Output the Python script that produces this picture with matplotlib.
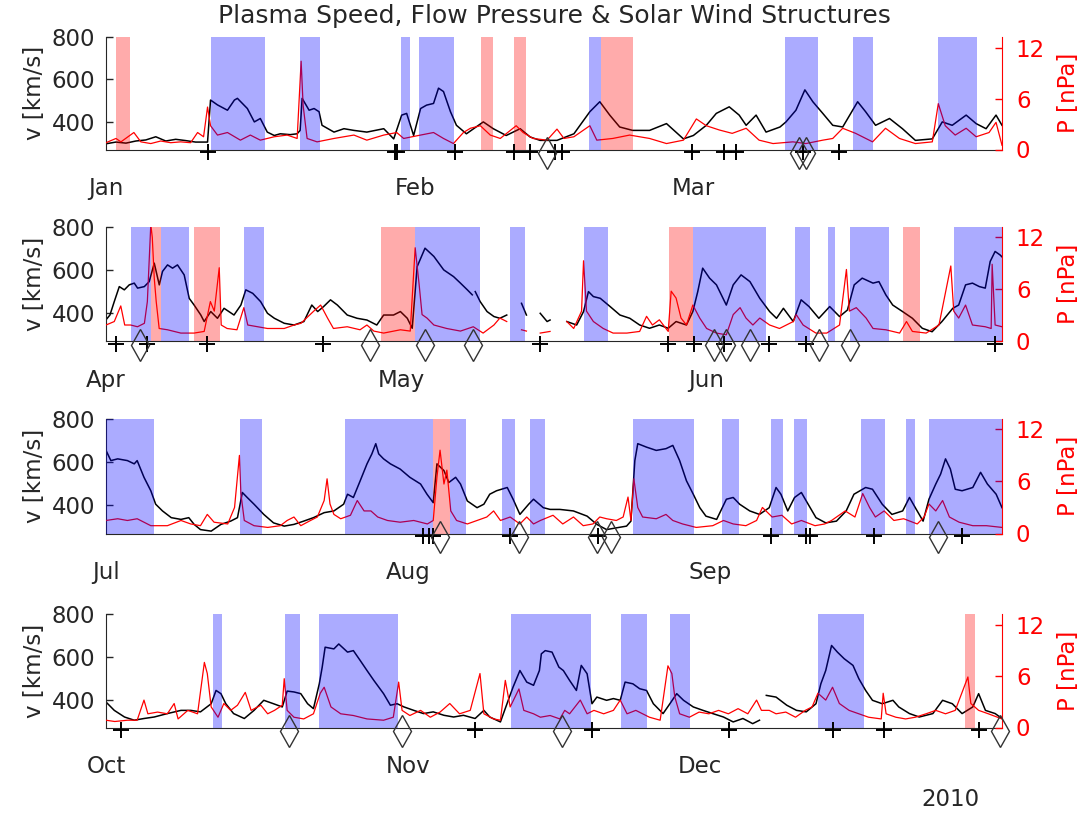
import numpy as np
import matplotlib
matplotlib.use("Agg")
import matplotlib.pyplot as plt

plt.rcParams['font.family'] = ['DejaVu Sans']

nan = np.nan

# ---- calendar layout: one panel per quarter of 2010 (day of year, 0 = Jan 1) ----
quarter_start = [0, 90, 181, 273]
quarter_end = [90, 181, 273, 365]
month_names = [["Jan", "Feb", "Mar"], ["Apr", "May", "Jun"],
               ["Jul", "Aug", "Sep"], ["Oct", "Nov", "Dec"]]
month_start = [[0, 31, 59], [90, 120, 151], [181, 212, 243], [273, 304, 334]]

# ---- Q1: (day in quarter, value) ----
q1_speed = [(0, 297), (1, 305), (2, 300), (3, 310), (4, 315), (5, 330), (6, 310), (7, 318),
            (8, 312), (9, 305), (10.2, 305), (10.5, 503), (11.2, 480), (12.2, 455), (12.9, 503),
            (13.2, 511), (14.2, 463), (14.9, 400), (15.5, 416), (16.2, 352), (16.9, 336),
            (17.5, 344), (18.5, 340), (19.2, 344), (19.5, 360), (19.7, 511), (20.4, 455),
            (20.9, 463), (21.4, 448), (21.7, 384), (22.9, 352), (23.9, 368), (24.9, 360),
            (26.2, 352), (27.9, 368), (28.9, 320), (29.7, 432), (30.2, 440), (30.9, 336),
            (31.6, 463), (32.2, 479), (32.9, 487), (33.4, 559), (33.9, 543), (34.6, 448),
            (35.2, 384), (36.2, 344), (37.9, 400), (38.9, 368), (40.2, 336), (41.6, 368),
            (42.6, 329), (43.6, 313), (45.3, 313), (47.0, 344), (48.6, 448), (49.6, 495),
            (50.6, 432), (51.6, 376), (52.9, 360), (54.6, 360), (56.3, 392), (58.0, 320),
            (59.0, 336), (60.3, 384), (61.3, 440), (62.6, 471), (63.6, 432), (64.3, 384),
            (65.3, 432), (66.3, 352), (67.7, 376), (68.3, 400), (69.3, 455), (70.2, 551),
            (71.0, 495), (72.0, 440), (73.0, 384), (74.0, 376), (75.5, 495), (76.3, 448),
            (77.3, 384), (78.7, 416), (80.0, 368), (81.3, 313), (83.0, 320), (84.0, 400),
            (85.0, 384), (86.4, 432), (87.4, 392), (88.4, 368), (89.4, 432), (90.0, 384)]
q1_pressure = [(0, 0.8), (1.0, 1.3), (1.5, 0.9), (2.8, 2.0), (3.5, 0.9), (4.5, 0.7), (5.5, 1.0),
               (6.5, 0.8), (7.5, 0.9), (8.5, 0.8), (9.2, 2.0), (9.8, 1.5), (10.2, 5.0),
               (10.5, 2.8), (11.2, 1.7), (12.2, 2.0), (13.5, 1.1), (14.5, 1.7), (15.5, 1.1),
               (16.9, 1.5), (18.2, 1.7), (19.2, 1.3), (19.6, 10.4), (19.8, 5.2), (20.2, 1.3),
               (21.2, 0.9), (22.9, 1.3), (24.9, 1.7), (26.2, 1.1), (27.9, 1.7), (29.2, 2.0),
               (29.9, 1.3), (31.6, 1.7), (32.9, 2.0), (33.9, 1.3), (34.9, 0.7), (35.9, 2.0),
               (36.6, 2.5), (37.6, 2.8), (38.6, 1.7), (39.6, 1.3), (41.2, 2.8), (41.9, 2.0),
               (42.9, 1.3), (44.3, 1.1), (45.3, 2.4), (46.0, 1.3), (47.0, 1.5), (48.6, 2.8),
               (49.3, 1.1), (50.9, 1.3), (52.6, 1.7), (54.6, 1.3), (56.3, 0.7), (58.0, 1.1),
               (59.3, 3.6), (60.3, 2.8), (61.6, 2.3), (62.9, 1.9), (64.3, 2.5), (65.6, 1.1),
               (67.0, 0.7), (69.0, 0.9), (70.3, 0.7), (72.0, 1.1), (73.0, 1.3), (74.0, 2.5),
               (75.3, 1.9), (77.0, 0.9), (78.3, 2.5), (79.7, 1.3), (81.3, 0.7), (83.0, 0.9),
               (83.6, 5.4), (84.3, 2.8), (85.3, 1.7), (86.4, 2.5), (87.4, 1.5), (88.7, 2.0),
               (89.4, 3.2), (90.0, 0.5)]
q1_hss = [(10.5, 16.0), (19.5, 21.5), (29.6, 30.5), (31.4, 35.0), (48.5, 49.7),
          (68.2, 71.5), (75.0, 77.0), (83.6, 87.5)]
q1_icme = [(1.0, 2.4), (37.7, 38.9), (41.0, 42.2), (49.7, 52.9)]
q1_shocks = [10.25, 29.0, 29.2, 35.1, 41.0, 42.6, 45.1, 45.8, 58.9, 62.1, 63.3, 70.0, 73.6]
q1_interfaces = [44.3, 69.6, 70.3]

# ---- Q2 ----
q2_speed = [(0, 370), (0.4, 392), (0.84, 454), (1.35, 523), (1.86, 508), (2.36, 531), (2.87, 539),
            (3.21, 516), (3.89, 523), (4.39, 546), (4.9, 631), (5.41, 531), (5.74, 593),
            (6.25, 623), (6.76, 608), (7.26, 623), (7.94, 577), (8.45, 469), (8.95, 438),
            (9.63, 392), (9.97, 362), (10.64, 408), (11.32, 377), (11.99, 423), (13.0, 392),
            (13.7, 438), (14.2, 508), (14.9, 492), (15.7, 454), (16.4, 400), (17.1, 377),
            (18.1, 354), (19.1, 346), (20.1, 362), (20.9, 438), (21.5, 408), (22.1, 431),
            (22.8, 462), (23.5, 438), (24.5, 392), (25.5, 377), (26.5, 369), (27.5, 346),
            (28.2, 392), (29.2, 392), (29.9, 408), (30.6, 377), (31.1, 331), (31.6, 615),
            (32.4, 700), (33.3, 662), (34.3, 600), (35.3, 569), (36.0, 539), (36.7, 508),
            (37.2, 485), (37.3, nan), (37.5, 500), (38.0, 454), (38.7, 408), (39.4, 385),
            (40.0, 377), (40.7, 392), (41.5, nan), (42.2, 446), (42.7, 392), (43.5, nan),
            (44.1, 400), (44.8, 362), (45.1, 369), (46.0, nan), (46.8, 362), (47.8, 346),
            (48.5, 408), (49.0, 500), (49.5, 477), (50.2, 469), (51.2, 431), (52.2, 392),
            (53.2, 377), (54.2, 346), (55.2, 331), (56.2, 346), (57.1, 331), (57.9, 362),
            (58.95, 346), (59.6, 408), (60.1, 500), (60.6, 608), (61.3, 562), (62.0, 531),
            (63.0, 438), (63.7, 531), (64.5, 577), (65.4, 546), (66.4, 469), (67.4, 408),
            (68.1, 377), (68.8, 423), (69.8, 362), (70.6, 462), (71.4, 431), (72.4, 377),
            (73.5, 431), (74.5, 385), (75.3, 415), (75.99, 531), (76.8, 562), (77.9, 539),
            (78.5, 546), (79.2, 485), (79.9, 438), (80.9, 408), (81.9, 377), (82.9, 331),
            (83.9, 315), (84.9, 362), (86.0, 423), (86.6, 438), (87.3, 531), (88.0, 539),
            (88.7, 523), (89.3, 516), (89.8, 639), (90.3, 685), (90.8, 669), (91.0, 660)]
q2_pressure = [(0, 1.9), (0.84, 2.3), (1.5, 4.1), (1.9, 1.9), (2.5, 1.9), (3.2, 1.7), (3.9, 2.1),
               (4.2, 4.6), (4.55, 13.5), (4.7, 12.0), (4.9, 7.3), (5.1, 4.6), (5.4, 1.5),
               (6.25, 1.35), (7.6, 0.97), (8.95, 0.97), (9.97, 1.16), (10.6, 4.6), (11.0, 3.5),
               (11.5, 8.5), (11.7, 1.9), (12.3, 1.5), (13.3, 1.35), (14.0, 3.9), (14.4, 1.9),
               (15.4, 1.7), (16.4, 1.5), (18.1, 1.5), (19.1, 1.9), (19.8, 2.1), (21.1, 3.5),
               (21.8, 4.2), (22.5, 2.7), (23.1, 1.5), (24.5, 1.7), (25.8, 1.35), (26.5, 1.9),
               (27.2, 1.2), (28.2, 0.97), (29.9, 1.35), (30.9, 1.2), (31.4, 10.8), (31.8, 6.6),
               (32.1, 3.1), (32.6, 2.7), (33.3, 1.9), (34.6, 1.5), (36.0, 1.2), (37.3, 1.7),
               (38.3, 0.97), (39.4, 1.9), (40.0, 2.7), (40.7, 2.3), (41.5, nan), (42.2, 1.35),
               (42.7, 1.2), (43.5, nan), (44.1, 0.97), (45.1, 1.16), (46.0, nan), (46.8, 2.3),
               (47.5, 1.5), (48.3, 3.5), (48.5, 9.3), (48.8, 3.5), (49.5, 2.3), (50.5, 1.5),
               (51.5, 0.97), (52.9, 0.97), (54.2, 1.16), (54.9, 2.9), (55.5, 1.9), (56.2, 2.5),
               (57.1, 1.16), (57.4, 5.8), (57.9, 5.0), (58.4, 2.7), (58.95, 1.9), (59.6, 4.2),
               (60.3, 2.7), (61.0, 1.5), (62.0, 0.97), (63.0, 0.77), (63.7, 3.1), (64.4, 3.9),
               (65.0, 2.7), (65.7, 1.9), (66.4, 2.7), (67.4, 1.9), (68.4, 1.5), (69.8, 2.3),
               (70.1, 3.1), (70.8, 1.9), (72.1, 0.97), (73.2, 0.97), (74.5, 1.9), (75.2, 8.3),
               (75.5, 3.5), (76.2, 3.9), (77.2, 2.7), (77.9, 1.5), (79.2, 1.35), (80.6, 0.97),
               (81.3, 2.3), (81.9, 1.16), (83.3, 0.97), (84.6, 1.9), (85.8, 8.7), (86.1, 3.5),
               (86.6, 2.7), (87.3, 4.2), (88.0, 1.9), (89.3, 1.7), (89.9, 1.5), (90.0, 8.9),
               (90.3, 1.9), (91.0, 1.7)]
q2_hss = [(2.5, 4.6), (5.6, 8.4), (14.0, 16.0), (31.4, 38.0), (41.0, 42.6), (48.5, 51.0),
          (59.6, 67.0), (70.0, 71.5), (73.3, 74.0), (75.6, 79.5), (86.1, 91.0)]
q2_icme = [(4.6, 5.6), (8.9, 11.6), (27.9, 31.4), (57.2, 59.6), (80.9, 82.7)]
q2_shocks = [1.0, 4.2, 10.3, 22.0, 44.1, 57.1, 59.7, 62.8, 67.3, 71.1, 90.3]
q2_interfaces = [3.5, 26.8, 32.4, 37.3, 61.8, 63.0, 65.4, 72.4, 75.6]

# ---- Q3 ----
q3_speed = [(0, 653), (0.5, 606), (1.2, 614), (2.2, 606), (2.9, 591), (3.2, 606), (3.9, 529),
            (4.6, 467), (5.1, 405), (5.8, 374), (6.7, 343), (7.7, 335), (8.5, 343), (9.05, 312),
            (9.7, 288), (10.8, 281), (11.8, 312), (12.8, 327), (13.5, 343), (14.0, 459),
            (14.5, 436), (15.2, 405), (16.2, 358), (17.2, 319), (18.3, 304), (19.3, 312),
            (20.3, 327), (21.3, 343), (22.4, 366), (23.4, 374), (24.4, 405), (24.8, 451),
            (25.4, 436), (26.1, 513), (26.8, 591), (27.3, 637), (27.7, 684), (28.0, 637),
            (28.5, 614), (29.2, 591), (30.2, 567), (31.2, 529), (32.3, 498), (32.96, 451),
            (33.6, 412), (33.98, 591), (34.7, 560), (35.2, 505), (35.9, 529), (36.4, 498),
            (37.1, 420), (38.1, 389), (38.8, 405), (39.4, 451), (40.1, 467), (41.2, 482),
            (41.8, 428), (42.5, 358), (43.4, 405), (43.9, 428), (44.9, 389), (45.6, 381),
            (46.6, 381), (47.99, 374), (49.4, 350), (50.4, 312), (51.4, 288), (52.4, 296),
            (53.45, 304), (53.9, 327), (54.3, 606), (54.6, 684), (55.5, 668), (56.5, 653),
            (57.5, 661), (58.2, 676), (58.9, 606), (59.6, 513), (60.3, 451), (60.97, 389),
            (61.6, 350), (62.7, 335), (63.7, 428), (64.4, 436), (65.06, 405), (66.1, 374),
            (67.1, 358), (68.1, 389), (68.8, 482), (69.3, 451), (70.0, 374), (70.7, 436),
            (71.4, 459), (71.9, 420), (72.9, 343), (73.9, 319), (75.0, 327), (76.0, 374),
            (76.8, 451), (78.0, 482), (78.7, 474), (79.7, 405), (80.7, 358), (81.8, 374),
            (82.5, 436), (83.2, 381), (83.9, 327), (84.5, 428), (85.2, 498), (85.7, 544),
            (86.2, 614), (86.7, 567), (87.2, 474), (87.9, 467), (89.0, 482), (89.8, 552),
            (90.5, 498), (91.4, 451), (92.0, 389)]
q3_pressure = [(0, 1.5), (1.2, 1.7), (2.2, 1.5), (3.2, 1.7), (4.6, 0.9), (6.3, 0.9), (7.7, 1.5),
               (8.7, 1.1), (9.7, 0.9), (10.4, 2.2), (11.1, 1.3), (12.5, 1.1), (13.2, 3.0),
               (13.7, 9.0), (13.85, 4.6), (14.2, 1.5), (15.2, 0.9), (16.6, 0.7), (17.9, 0.9),
               (18.6, 1.5), (19.3, 1.9), (20.0, 0.9), (21.0, 1.5), (21.7, 1.9), (22.4, 3.8),
               (22.7, 6.3), (23.0, 3.4), (23.4, 2.2), (24.1, 1.7), (25.1, 2.1), (25.8, 3.8),
               (26.5, 2.6), (27.2, 2.6), (27.9, 1.9), (28.9, 1.5), (30.2, 1.3), (31.6, 1.5),
               (33.0, 1.1), (33.6, 1.5), (33.98, 6.5), (34.3, 9.6), (34.7, 5.7), (35.0, 7.3),
               (35.4, 2.6), (36.0, 1.5), (37.1, 1.1), (38.1, 1.5), (39.1, 1.9), (39.8, 2.6),
               (40.5, 1.5), (41.5, 1.9), (42.5, 1.1), (43.2, 1.9), (43.9, 1.1), (44.6, 1.5),
               (45.9, 2.1), (46.9, 1.1), (48.0, 1.9), (49.0, 0.9), (50.0, 1.1), (50.7, 1.9),
               (51.4, 1.7), (52.4, 1.5), (53.1, 1.9), (53.6, 4.2), (53.9, 1.5), (54.2, 6.3),
               (54.6, 3.0), (55.1, 1.9), (56.5, 1.7), (57.5, 2.2), (58.2, 1.5), (59.2, 1.1),
               (60.6, 0.7), (62.3, 0.9), (63.4, 1.5), (64.4, 1.1), (65.7, 0.9), (66.8, 1.5),
               (67.4, 3.0), (68.4, 1.9), (69.4, 2.1), (70.4, 1.1), (71.4, 1.5), (72.8, 0.9),
               (73.8, 1.1), (74.5, 1.5), (75.9, 2.6), (76.9, 1.9), (77.7, 4.6), (78.4, 3.0),
               (79.0, 1.9), (79.9, 2.6), (80.9, 1.5), (81.9, 1.7), (83.3, 1.1), (84.0, 1.9),
               (84.5, 3.4), (85.2, 2.6), (85.9, 3.8), (86.6, 1.9), (87.6, 1.3), (89.0, 0.9),
               (90.4, 0.9), (92.0, 0.7)]
q3_hss = [(0, 4.95), (13.8, 16.0), (24.5, 33.6), (35.3, 36.95), (40.7, 42.0), (43.5, 45.1),
          (54.07, 60.4), (63.3, 65.0), (68.3, 69.5), (70.6, 71.96), (77.5, 80.0),
          (82.1, 83.07), (84.5, 92.0)]
q3_icme = [(33.6, 35.3)]
q3_shocks = [32.6, 33.2, 33.6, 41.5, 50.5, 68.3, 71.9, 72.3, 78.9, 87.9]
q3_interfaces = [34.3, 42.4, 50.4, 51.9, 85.4]

# ---- Q4 ----
q4_speed = [(0, 389), (0.85, 350), (1.9, 319), (2.9, 304), (3.9, 312), (4.95, 319), (6.3, 335),
            (7.7, 350), (8.7, 350), (9.7, 343), (10.8, 381), (11.3, 443), (11.8, 428),
            (12.3, 381), (13.1, 335), (14.2, 312), (15.2, 350), (16.2, 397), (17.2, 381),
            (18.1, 366), (18.6, 440), (19.3, 436), (20.0, 428), (20.7, 381), (21.3, 358),
            (21.9, 474), (22.2, 552), (22.5, 645), (23.4, 637), (23.9, 660), (24.8, 622),
            (25.4, 629), (26.1, 583), (26.8, 536), (27.5, 490), (28.5, 428), (29.2, 374),
            (29.9, 381), (30.6, 366), (31.6, 350), (32.6, 335), (33.6, 343), (34.7, 327),
            (35.7, 319), (36.7, 327), (37.9, 312), (38.8, 350), (39.4, 319), (40.5, 296),
            (41.3, 397), (41.8, 459), (42.5, 536), (43.2, 482), (43.9, 467), (44.5, 536),
            (44.7, 614), (45.1, 629), (45.8, 622), (46.5, 552), (46.96, 536), (47.6, 490),
            (48.3, 443), (48.8, 560), (49.4, 521), (49.9, 381), (50.4, 412), (51.4, 397),
            (52.1, 405), (52.8, 397), (53.3, 482), (54.1, 474), (54.8, 451), (55.5, 443),
            (56.2, 381), (57.2, 335), (57.9, 381), (58.6, 428), (59.3, 397), (60.3, 366),
            (61.3, 350), (62.3, 335), (63.4, 319), (64.4, 296), (65.4, 312), (66.4, 288),
            (67.1, 304), (67.5, nan), (67.8, 420), (68.8, 412), (69.9, 374), (70.9, 350),
            (71.9, 343), (72.9, 381), (73.4, 474), (73.9, 536), (74.5, 653), (75.1, 622),
            (75.8, 591), (76.7, 560), (77.3, 498), (78.0, 443), (78.7, 397), (79.7, 381),
            (80.8, 397), (81.4, 366), (82.5, 335), (83.5, 319), (84.9, 335), (85.9, 397),
            (86.9, 381), (87.9, 335), (89.0, 366), (89.6, 428), (90.3, 350), (91.3, 335),
            (92.0, 312)]
q4_pressure = [(0, 0.85), (0.9, 0.7), (2.2, 0.85), (3.2, 0.85), (3.9, 3.2), (4.3, 1.6),
               (5.3, 1.8), (6.3, 1.6), (7.0, 2.8), (7.4, 1.0), (8.4, 2.0), (9.4, 1.6),
               (10.1, 7.6), (10.4, 6.3), (10.8, 2.4), (11.5, 1.2), (12.1, 2.8), (12.8, 2.0),
               (13.5, 2.6), (14.3, 4.1), (14.9, 2.0), (15.9, 2.6), (16.6, 1.6), (17.3, 2.0),
               (18.1, 2.6), (18.3, 5.7), (18.6, 2.0), (19.3, 1.2), (20.3, 1.0), (21.3, 1.6),
               (22.0, 4.0), (22.4, 4.7), (23.1, 2.4), (24.1, 1.6), (25.4, 1.4), (26.8, 1.0),
               (28.5, 0.85), (29.5, 1.2), (30.05, 5.3), (30.4, 2.0), (31.2, 1.4), (32.3, 2.0),
               (33.3, 1.2), (34.3, 1.8), (35.3, 2.8), (36.3, 1.6), (37.4, 2.0), (38.4, 6.3),
               (38.8, 1.6), (39.8, 1.0), (40.5, 0.85), (41.0, 5.5), (41.5, 2.4), (42.4, 4.5),
               (42.9, 2.0), (43.9, 1.6), (44.6, 1.2), (45.6, 1.4), (46.6, 1.0), (47.1, 2.0),
               (47.6, 1.6), (48.7, 3.2), (49.4, 1.6), (50.1, 2.0), (51.1, 1.6), (52.1, 2.0),
               (52.8, 3.2), (53.5, 1.6), (54.4, 2.0), (55.1, 1.6), (55.8, 1.2), (56.9, 0.85),
               (57.7, 7.2), (58.1, 6.3), (58.4, 3.6), (58.9, 1.6), (59.9, 1.2), (60.9, 1.8),
               (61.9, 1.6), (62.9, 2.0), (63.9, 1.6), (64.9, 2.2), (65.9, 1.6), (66.8, 3.2),
               (67.3, 2.0), (68.1, 2.0), (68.8, 1.6), (69.8, 1.8), (70.8, 1.2), (71.8, 2.0),
               (72.5, 2.4), (73.1, 4.0), (73.9, 3.2), (74.6, 4.7), (75.3, 2.8), (76.3, 2.0),
               (77.3, 1.6), (78.3, 1.2), (79.6, 1.0), (79.8, 4.0), (80.1, 1.6), (81.1, 1.2),
               (82.1, 1.0), (83.1, 1.2), (84.2, 1.6), (85.2, 2.0), (86.2, 1.6), (87.2, 2.0),
               (88.5, 5.9), (88.8, 2.8), (89.6, 2.0), (90.6, 1.6), (92.0, 1.0)]
q4_hss = [(11.0, 11.95), (18.4, 19.9), (21.9, 29.95), (41.6, 49.8), (52.9, 55.5),
          (57.9, 60.0), (73.1, 77.8)]
q4_icme = [(88.2, 89.2)]
q4_shocks = [1.5, 37.9, 49.9, 64.0, 74.6, 79.9, 89.6]
q4_interfaces = [18.8, 30.4, 46.8, 91.8]

speed_series = [q1_speed, q2_speed, q3_speed, q4_speed]
pressure_series = [q1_pressure, q2_pressure, q3_pressure, q4_pressure]
hss_intervals = [q1_hss, q2_hss, q3_hss, q4_hss]
icme_intervals = [q1_icme, q2_icme, q3_icme, q4_icme]
shock_days = [q1_shocks, q2_shocks, q3_shocks, q4_shocks]
interface_days = [q1_interfaces, q2_interfaces, q3_interfaces, q4_interfaces]

V_LIM = (270, 800)
P_LIM = (0, 13.25)
HSS_COLOR = (0.0, 0.0, 1.0, 0.33)
ICME_COLOR = (1.0, 0.0, 0.0, 0.33)
AXIS_GRAY = '#262626'
FS = 16.5

W, H = 1092, 816
fig = plt.figure(figsize=(W / 100, H / 100), dpi=100)

# panel boxes in pixels: (top, bottom)
panel_px = [(37, 149.5), (226.5, 341.5), (418.5, 533.5), (614, 727.5)]
left_px, right_px = 106, 1002

for i in range(4):
    top, bot = panel_px[i]
    ax = fig.add_axes([left_px / W, 1 - bot / H, (right_px - left_px) / W, (bot - top) / H])
    ax2 = ax.twinx()
    x0 = quarter_start[i]

    t, v = np.array(speed_series[i], dtype=float).T
    ax.plot(t + x0, v, color='black', lw=1.1, zorder=2)
    tp, p = np.array(pressure_series[i], dtype=float).T
    ax2.plot(tp + x0, p, color='red', lw=0.9, zorder=3)

    for a, b in hss_intervals[i]:
        ax2.axvspan(a + x0, b + x0, color=HSS_COLOR, lw=0, zorder=5)
    for a, b in icme_intervals[i]:
        ax2.axvspan(a + x0, b + x0, color=ICME_COLOR, lw=0, zorder=5)

    tr = ax2.get_xaxis_transform()
    sd = np.array(shock_days[i]) + x0
    ax2.plot(sd, np.full(sd.shape, -0.02), ls='none', marker='+', ms=12, mew=1.4,
             color='black', transform=tr, clip_on=False, zorder=8)
    idays = np.array(interface_days[i]) + x0
    ax2.plot(idays, np.full(idays.shape, -0.03), ls='none', marker='d', ms=16, mew=1.0,
             mfc='none', mec='#333333', transform=tr, clip_on=False, zorder=8)

    ax.set_xlim(quarter_start[i], quarter_end[i])
    ax.set_ylim(*V_LIM)
    ax2.set_ylim(*P_LIM)

    ax.set_yticks([400, 600, 800])
    ax.tick_params(axis='y', direction='in', length=5, width=1, labelsize=FS, pad=8,
                   colors=AXIS_GRAY, labelcolor=AXIS_GRAY)
    ax.set_xticks(month_start[i])
    ax.set_xticklabels(month_names[i])
    ax.tick_params(axis='x', length=0, labelsize=FS, pad=20, labelcolor=AXIS_GRAY)

    ax2.set_yticks([0, 6, 12])
    ax2.tick_params(axis='y', direction='in', length=5, width=1, labelsize=FS, pad=10,
                    colors='red')

    for s in ('top', 'right'):
        ax.spines[s].set_visible(False)
    ax.spines['left'].set_color(AXIS_GRAY)
    ax.spines['bottom'].set_color(AXIS_GRAY)
    for s in ('top', 'left', 'bottom'):
        ax2.spines[s].set_visible(False)
    ax2.spines['right'].set_color('red')

    yc = 1 - (top + bot) / 2 / H
    fig.text(35 / W, yc, 'v [km/s]', rotation=90, ha='center', va='center',
             fontsize=FS, color=AXIS_GRAY)
    fig.text(1068 / W, yc, 'P [nPa]', rotation=90, ha='center', va='center',
             fontsize=FS, color='red')

fig.text(554 / W, 1 - 16 / H, 'Plasma Speed, Flow Pressure & Solar Wind Structures',
         ha='center', va='center', fontsize=18, color=AXIS_GRAY)
fig.text(950 / W, 1 - 800 / H, '2010', ha='center', va='center', fontsize=FS,
         color=AXIS_GRAY)

fig.savefig('out.png', dpi=100)
